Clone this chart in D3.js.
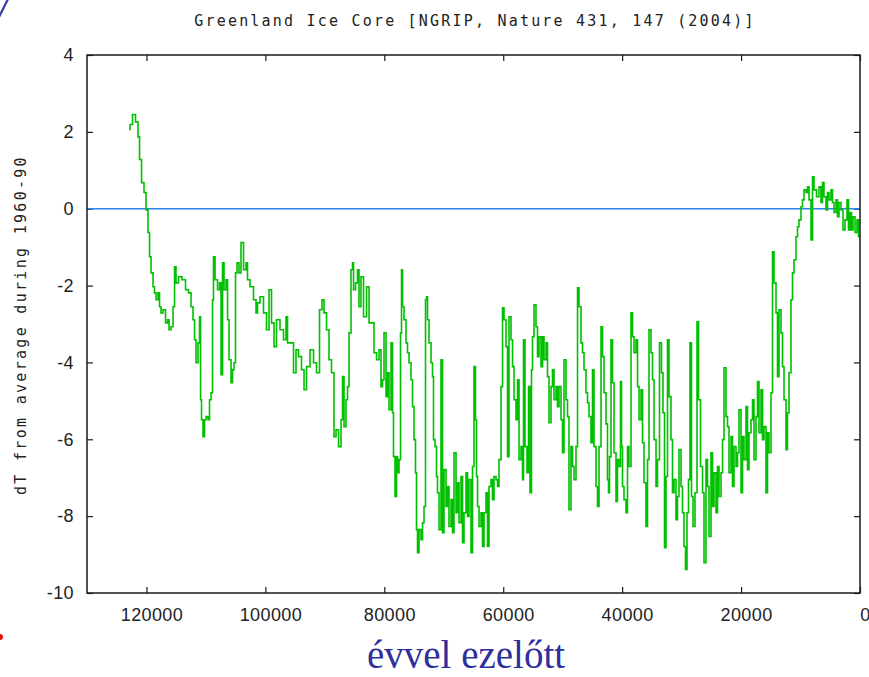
<!DOCTYPE html>
<html>
<head>
<meta charset="utf-8">
<script src="https://cdn.jsdelivr.net/npm/d3@7/dist/d3.min.js"></script>
<style>
  html, body { margin: 0; padding: 0; background: #fff; }
  svg { display: block; }
</style>
</head>
<body>
<svg id="chart" width="869" height="677"></svg>
<script>
// NGRIP temperature anomaly reconstruction, years before present
const ageBP = [
  122930,122600,122090,121590,121250,121080,120580,120240,119910,119570,119400,119060,118730,118560,118220,117890,117720,117380,117050,116540,
  116370,116040,115700,115360,115200,114860,114360,113680,113180,112670,112340,112000,111830,111500,111160,110990,110820,110660,110320,110150,
  109810,109480,109310,108970,108810,108640,108300,107800,107630,107290,107120,106790,106450,106280,105950,105610,105440,105110,104940,104600,
  104270,103930,103420,103090,102920,102250,101740,101410,101240,100570,100060,99560,99220,98720,98380,97880,97200,96700,96360,96190,
  95520,95020,94680,94180,93670,93330,92830,92160,91650,91150,90640,90310,89970,89470,89130,88630,88290,87950,87450,87110,
  86940,86610,86270,86100,85770,85430,85260,85090,84590,84420,84090,83750,83240,82740,82400,81900,81560,81060,80720,80390,
  80220,79880,79540,79380,79040,78700,78540,78370,78030,77860,77690,77360,77190,77020,76850,76520,76180,76010,75680,75340,
  75170,74840,74670,74500,74330,73990,73660,73490,73150,72990,72820,72650,72310,71980,71810,71640,71300,71140,70970,70630,
  70300,70130,69790,69450,69290,68950,68610,68450,68110,67770,67600,67270,66930,66760,66430,66090,65920,65590,65250,65080,
  64750,64580,64410,64240,63900,63570,63400,63060,62730,62560,62220,61890,61720,61380,61050,60880,60540,60200,60040,59700,
  59360,59200,58860,58520,58350,58020,57680,57510,57180,56840,56670,56510,56170,55830,55660,55330,55160,54990,54660,54320,
  54150,53810,53480,53310,52970,52640,52470,52130,51800,51630,51290,50960,50790,50450,50110,49950,49610,49270,49110,48770,
  48430,48260,47930,47590,47420,47090,46750,46580,46250,45910,45740,45410,45070,44900,44570,44230,44060,43720,43390,43220,
  42880,42550,42380,42210,42040,41710,41540,41200,40870,40700,40360,40190,40020,39860,39520,39180,39020,38680,38340,38170,
  37840,37500,37330,37000,36660,36490,36160,35820,35650,35320,34980,34810,34470,34140,33970,33470,33300,32960,32790,32460,
  32290,31950,31620,31450,31110,30780,30610,30270,29930,29770,29430,29260,28930,28760,28420,28250,27920,27580,27240,27080,
  26570,26400,26070,25730,25560,25230,24890,24720,24380,24050,23880,23540,23210,23040,22700,22370,22200,21860,21530,21360,
  21020,20680,20520,20180,19840,19680,19340,19000,18840,18500,18160,17990,17660,17320,17150,16820,16480,16310,15980,15640,
  15470,15140,14800,14630,14290,13960,13790,13450,13120,12950,12610,12280,12110,11770,11440,11270,10930,10590,10430,10090,
  9750,9590,9250,8910,8740,8410,8070,7900,7570,7060,6730,6390,6220,5890,5550,5380,5050,4710,4540,4200,
  3870,3700,3360,3030,2690,2350,2020,1850,1510,1350,1010,670,340,170
];
const dT = [
  2.06,2.19,2.45,2.26,1.87,1.28,0.68,0.42,-0.03,-0.62,-1.25,-1.67,-2.03,-2.19,-2.37,-2.19,-2.55,-2.71,-2.63,-2.97,
  -2.89,-3.15,-3.07,-2.55,-1.51,-1.93,-1.77,-1.85,-2.11,-2.19,-2.55,-2.89,-3.41,-4.01,-3.49,-2.81,-4.97,-5.49,-5.93,-5.49,
  -5.41,-5.49,-4.97,-4.79,-2.37,-1.25,-1.85,-2.11,-1.93,-4.32,-1.41,-2.11,-1.85,-2.89,-3.93,-4.53,-4.19,-4.01,-1.67,-1.41,
  -1.67,-0.88,-1.59,-1.41,-1.85,-2.03,-2.37,-2.71,-2.45,-2.29,-2.71,-3.15,-2.11,-2.97,-3.59,-2.89,-3.15,-3.41,-2.81,-3.49,
  -3.49,-4.27,-3.67,-3.85,-4.19,-4.71,-4.11,-3.67,-4.01,-4.27,-2.63,-2.37,-2.71,-3.15,-3.93,-4.27,-5.93,-5.75,-6.19,-5.49,
  -4.37,-5.67,-4.97,-4.63,-3.23,-1.59,-1.41,-2.11,-1.93,-1.59,-2.55,-1.77,-2.81,-2.03,-2.97,-2.97,-3.75,-3.93,-3.67,-4.63,
  -4.45,-3.23,-4.89,-4.27,-5.23,-3.49,-5.31,-6.45,-7.49,-6.45,-6.87,-6.53,-3.23,-1.59,-2.55,-2.89,-3.49,-3.75,-4.01,-4.45,
  -5.15,-6.01,-6.87,-8.35,-8.95,-8.35,-8.61,-8.17,-7.75,-2.37,-2.29,-2.89,-3.49,-4.01,-4.37,-6.01,-6.19,-6.97,-7.39,-8.35,
  -3.93,-8.43,-6.79,-7.75,-7.23,-8.27,-7.57,-8.43,-6.35,-7.91,-7.13,-8.17,-6.97,-8.69,-7.91,-6.87,-8.01,-7.05,-8.95,-6.71,
  -4.11,-5.49,-6.97,-7.75,-8.27,-7.91,-8.79,-7.91,-7.39,-8.79,-7.23,-7.05,-7.57,-6.97,-7.05,-7.23,-6.53,-4.63,-2.58,-2.89,
  -3.59,-6.45,-2.81,-3.41,-4.11,-4.97,-5.49,-4.45,-6.53,-6.19,-7.05,-3.41,-6.19,-6.87,-4.63,-7.39,-4.19,-3.33,-2.50,-3.07,
  -3.85,-3.33,-4.11,-3.33,-3.93,-3.49,-4.37,-5.57,-4.63,-4.19,-4.97,-4.63,-5.15,-4.63,-5.49,-6.35,-3.93,-4.97,-5.41,-7.83,
  -6.19,-6.71,-7.05,-6.19,-2.06,-2.55,-3.49,-3.75,-4.19,-4.79,-5.05,-5.41,-6.09,-4.19,-6.19,-7.23,-7.75,-6.19,-3.07,-3.85,
  -4.79,-5.60,-7.05,-7.39,-6.45,-3.41,-4.53,-6.35,-7.62,-6.53,-6.71,-4.50,-6.19,-7.23,-7.57,-7.91,-6.19,-6.71,-2.71,-3.33,
  -3.75,-3.41,-4.63,-5.49,-4.71,-6.09,-7.13,-8.27,-6.53,-3.15,-3.75,-4.45,-6.01,-7.23,-6.53,-3.49,-4.27,-5.31,-8.82,-6.97,
  -3.41,-4.89,-6.01,-7.39,-7.05,-8.09,-7.49,-6.27,-7.23,-7.91,-8.79,-9.39,-7.91,-7.05,-3.49,-7.49,-8.27,-7.39,-2.94,-4.97,
  -6.71,-7.39,-9.21,-6.53,-7.23,-8.53,-6.35,-7.75,-6.87,-7.91,-6.71,-7.49,-6.87,-6.01,-4.14,-5.41,-5.67,-6.87,-5.93,-7.23,
  -6.19,-6.71,-6.35,-5.23,-7.39,-5.93,-6.53,-5.15,-6.79,-5.83,-5.49,-4.97,-6.53,-5.41,-4.50,-5.83,-4.71,-6.01,-5.67,-7.39,
  -5.83,-6.35,-4.79,-1.12,-1.93,-2.71,-4.37,-2.63,-3.23,-4.11,-4.97,-6.27,-5.31,-4.27,-2.37,-1.67,-1.33,-0.73,-0.47,-0.29,
  0.05,0.23,0.49,0.42,0.57,0.23,-0.81,0.83,0.49,0.31,0.57,0.16,0.68,0.31,-0.03,0.42,0.23,0.49,0.16,-0.10,
  0.23,-0.21,0.16,-0.03,-0.55,-0.29,0.23,-0.55,-0.10,-0.55,-0.21,-0.62,-0.29,-0.73
];
const xTicks = [120000, 100000, 80000, 60000, 40000, 20000, 0];
const yTicks = [4, 2, 0, -2, -4, -6, -8, -10];

const titleText = "Greenland Ice Core [NGRIP, Nature 431, 147 (2004)]";
const yLabelText = "dT from average during 1960-90";
const captionText = "évvel ezelőtt";

const svg = d3.select("#chart");
const plot = { left: 87, right: 860, top: 55, bottom: 593 };

const x = d3.scaleLinear().domain([130000, 0]).range([plot.left, plot.right]);
const y = d3.scaleLinear().domain([-10, 4]).range([plot.bottom, plot.top]);

const tickFont = "'Liberation Sans', Arial, sans-serif";
const monoFont = "'DejaVu Sans Mono', 'Liberation Mono', monospace";

// stray slide decorations around the chart
svg.append("line").attr("x1", -1).attr("y1", 17).attr("x2", 8).attr("y2", -1)
  .attr("stroke", "#3a3aa8").attr("stroke-width", 2.2);
svg.append("circle").attr("cx", 0).attr("cy", 637).attr("r", 3).attr("fill", "#e01010");

// axes with inward-pointing ticks on all four sides
const fmt = d => String(d);
const bottomAxis = svg.append("g")
  .attr("transform", `translate(0,${plot.bottom})`)
  .call(d3.axisBottom(x).tickValues(xTicks).tickSize(-6).tickPadding(15).tickFormat(fmt));
bottomAxis.selectAll("text").attr("dx", 5);

svg.append("g")
  .attr("transform", `translate(0,${plot.top})`)
  .call(d3.axisTop(x).tickValues(xTicks).tickSize(-6).tickFormat(""));

svg.append("g")
  .attr("transform", `translate(${plot.left},0)`)
  .call(d3.axisLeft(y).tickValues(yTicks).tickSize(-6).tickPadding(13).tickFormat(fmt));

svg.append("g")
  .attr("transform", `translate(${plot.right},0)`)
  .call(d3.axisRight(y).tickValues(yTicks).tickSize(-6).tickFormat(""));

svg.selectAll(".domain").remove();
svg.selectAll(".tick line").attr("stroke", "#1a1a1a").attr("stroke-width", 1.2);
svg.selectAll(".tick text")
  .attr("font-family", tickFont).attr("font-size", 18).attr("fill", "#222")
  .attr("letter-spacing", 0.4);

// zero reference line
svg.append("line")
  .attr("x1", plot.left).attr("x2", plot.right)
  .attr("y1", y(0)).attr("y2", y(0))
  .attr("stroke", "#2a86ea").attr("stroke-width", 1.4);

// temperature series, drawn as steps between samples
const series = ageBP.map((a, i) => ({ age: a, t: dT[i] }));
svg.append("path")
  .datum(series)
  .attr("fill", "none")
  .attr("stroke", "#00c000")
  .attr("stroke-width", 1.6)
  .attr("d", d3.line().curve(d3.curveStep).x(d => x(d.age)).y(d => y(d.t)));

// plot frame
svg.append("rect")
  .attr("x", plot.left).attr("y", plot.top)
  .attr("width", plot.right - plot.left).attr("height", plot.bottom - plot.top)
  .attr("fill", "none").attr("stroke", "#1a1a1a").attr("stroke-width", 1.5);

// title
svg.append("text")
  .attr("x", 475).attr("y", 26)
  .attr("text-anchor", "middle")
  .attr("font-family", monoFont).attr("font-size", 15)
  .attr("letter-spacing", 2.2).attr("fill", "#222")
  .text(titleText);

// y axis label
svg.append("text")
  .attr("transform", "translate(26,325) rotate(-90)")
  .attr("text-anchor", "middle")
  .attr("font-family", monoFont).attr("font-size", 15)
  .attr("letter-spacing", 2.3).attr("fill", "#222")
  .text(yLabelText);

// caption under the chart
svg.append("text")
  .attr("x", 466).attr("y", 668)
  .attr("text-anchor", "middle")
  .attr("font-family", "'Liberation Serif', 'Times New Roman', serif")
  .attr("font-size", 39).attr("fill", "#2e2e9c")
  .text(captionText);
</script>
</body>
</html>
